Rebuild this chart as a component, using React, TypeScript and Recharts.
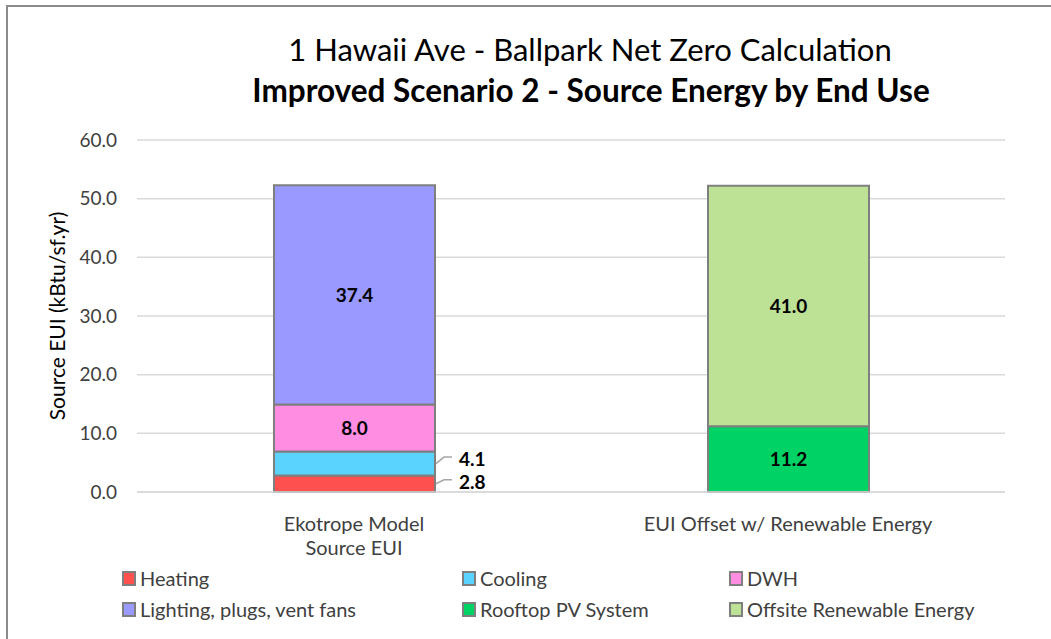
import { BarChart, Bar, XAxis, YAxis, CartesianGrid, LabelList } from 'recharts';

const categories = ['Ekotrope Model Source EUI', 'EUI Offset w/ Renewable Energy'];
const categoryLines = [['Ekotrope Model', 'Source EUI'], ['EUI Offset w/ Renewable Energy']];

// values per category (null = not part of that bar)
const heating = [2.8, null];
const cooling = [4.1, null];
const dwh = [8.0, null];
const lighting = [37.4, null];
const rooftopPv = [null, 11.2];
const offsite = [null, 41.0];

const yTicks = [0, 10, 20, 30, 40, 50, 60];

const series = [
    { key: 'heating', name: 'Heating', values: heating, color: '#FF5050', outside: -2 },
    { key: 'cooling', name: 'Cooling', values: cooling, color: '#5BD3FF', outside: -4.5 },
    { key: 'dwh', name: 'DWH', values: dwh, color: '#FF8DE2', outside: null },
    { key: 'lighting', name: 'Lighting, plugs, vent fans', values: lighting, color: '#9999FF', outside: null },
    { key: 'rooftopPv', name: 'Rooftop PV System', values: rooftopPv, color: '#00D265', outside: null },
    { key: 'offsite', name: 'Offsite Renewable Energy', values: offsite, color: '#BEE295', outside: null },
];

const data = categories.map((c, i) => {
    const row: Record<string, any> = { name: c, idx: i };
    series.forEach(s => { row[s.key] = s.values[i]; });
    return row;
});

const FONT = 'Lato, "Open Sans", sans-serif';

const CategoryTick = (props: any) => {
    const { x, y, payload } = props;
    const lines = categoryLines[payload.index] || [payload.value];
    return (
        <text x={x} y={y} textAnchor="middle" fill="#404040" fontSize={20} fontFamily={FONT}>
            {lines.map((l, i) => (
                <tspan key={i} x={x} dy={i === 0 ? 31 : 24}>{l}</tspan>
            ))}
        </text>
    );
};

const YLabel = (props: any) => {
    const { viewBox } = props;
    const cy = viewBox.y + viewBox.height / 2;
    const x = 56;
    return (
        <text x={x} y={cy} transform={`rotate(-90, ${x}, ${cy})`} textAnchor="middle" dominantBaseline="central" fill="#000" fontSize={21} fontFamily={FONT}>
            Source EUI (kBtu/sf.yr)
        </text>
    );
};

const makeLabel = (outside: number | null) => (props: any) => {
    const { x, y, width, height, value } = props;
    if (value == null || value === 0) return null;
    const cy = y + height / 2;
    if (outside == null) {
        return (
            <text x={x + width / 2} y={cy} dy={7} textAnchor="middle" fontWeight="bold" fontSize={19} fontFamily={FONT} fill="#000">
                {value.toFixed(1)}
            </text>
        );
    }
    const right = x + width;
    const ly = cy + outside;
    return (
        <g>
            <path d={`M${right + 1},${cy} L${right + 9},${ly - 2} L${right + 17},${ly - 2}`} stroke="#A6A6A6" strokeWidth={1.5} fill="none" />
            <text x={right + 24} y={ly} dy={7} fontWeight="bold" fontSize={19} fontFamily={FONT} fill="#000">
                {value.toFixed(1)}
            </text>
        </g>
    );
};

const legendPos = [
    { left: 122, top: 566 }, { left: 462, top: 566 }, { left: 729, top: 566 },
    { left: 122, top: 597 }, { left: 462, top: 597 }, { left: 729, top: 597 },
];

export default function App() {
    return (
        <div style={{ position: 'absolute', left: 0, top: 0, width: 1051, height: 639, background: '#fff', fontFamily: FONT, overflow: 'hidden' }}>
            {/* chart frame (only left/top edges visible) */}
            <div style={{ position: 'absolute', left: 6, top: 5, width: 1100, height: 700, border: '2px solid #8C8C8C', boxSizing: 'border-box' }} />
            <div style={{ position: 'absolute', left: 0, width: 1180, top: 31, textAlign: 'center', fontSize: 31, color: '#000', lineHeight: '36px' }}>
                1 Hawaii Ave - Ballpark Net Zero Calculation
            </div>
            <div style={{ position: 'absolute', left: 0, width: 1182, top: 72, textAlign: 'center', fontSize: 31.5, fontWeight: 'bold', color: '#000', lineHeight: '36px' }}>
                Improved Scenario 2 - Source Energy by End Use
            </div>
            <div style={{ position: 'absolute', left: 0, top: 0 }}>
                <BarChart width={1051} height={639} data={data} margin={{ top: 140, right: 46, bottom: 117, left: 77 }} barSize={161}>
                    <CartesianGrid vertical={false} stroke="#D9D9D9" strokeWidth={1.5} />
                    <XAxis dataKey="name" height={30} axisLine={{ stroke: '#D9D9D9', strokeWidth: 1.5 }} tickLine={false} tick={<CategoryTick />} interval={0} />
                    <YAxis
                        width={60}
                        domain={[0, 60]}
                        ticks={yTicks}
                        axisLine={false}
                        tickLine={false}
                        tickMargin={14}
                        tickFormatter={(v: number) => v.toFixed(1)}
                        tick={{ fill: '#404040', fontSize: 19, fontFamily: FONT }}
                        label={<YLabel />}
                    />
                    {series.map(s => (
                        <Bar key={s.key} dataKey={s.key} name={s.name} stackId="a" fill={s.color} stroke="#7F7F7F" strokeWidth={2} isAnimationActive={false}>
                            <LabelList dataKey={s.key} content={makeLabel(s.outside)} />
                        </Bar>
                    ))}
                </BarChart>
            </div>
            {series.map((s, i) => (
                <div key={s.key} style={{ position: 'absolute', left: legendPos[i].left, top: legendPos[i].top, display: 'flex', alignItems: 'center', fontSize: 20, color: '#404040', lineHeight: '24px' }}>
                    <span style={{ width: 10, height: 11, background: s.color, border: '2px solid #7F7F7F', marginRight: 4, display: 'inline-block' }} />
                    {s.name}
                </div>
            ))}
        </div>
    );
}
